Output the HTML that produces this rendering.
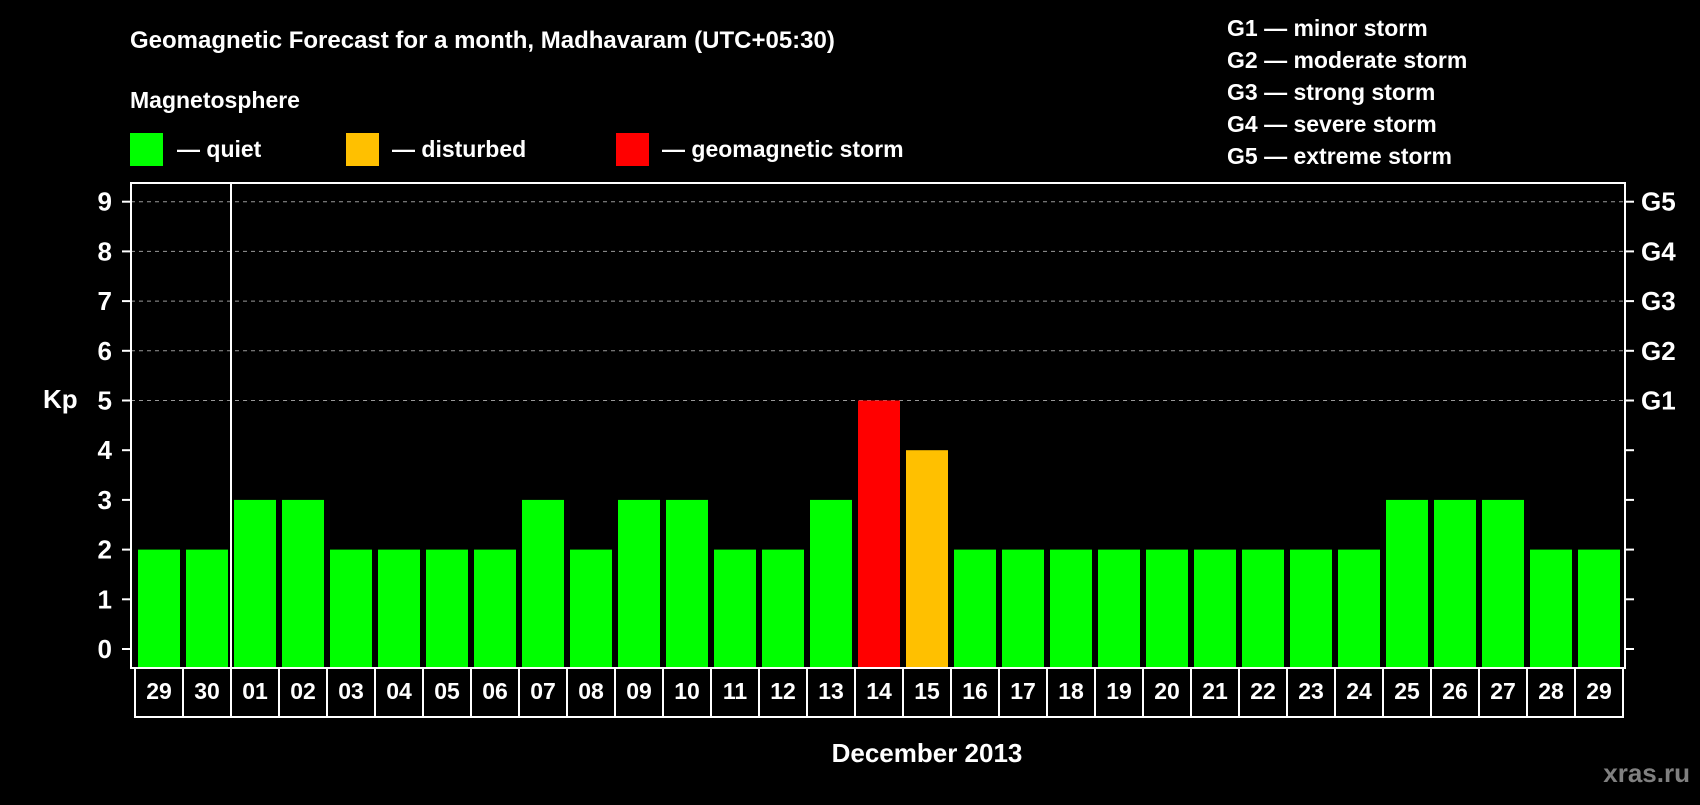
<!DOCTYPE html>
<html><head><meta charset="utf-8"><style>
body{margin:0;background:#000;width:1700px;height:800px;overflow:hidden}
svg text{font-family:"Liberation Sans",sans-serif;font-weight:bold;fill:#fff}
</style></head><body>
<svg id="c" width="1700" height="800">
<text x="130" y="48" font-size="24">Geomagnetic Forecast for a month, Madhavaram (UTC+05:30)</text>
<text x="130" y="108" font-size="23">Magnetosphere</text>
<rect x="130" y="133" width="33" height="33" fill="#00ff00"/>
<text x="177" y="157" font-size="23">— quiet</text>
<rect x="346" y="133" width="33" height="33" fill="#ffc000"/>
<text x="392" y="157" font-size="23">— disturbed</text>
<rect x="616" y="133" width="33" height="33" fill="#ff0000"/>
<text x="662" y="157" font-size="23">— geomagnetic storm</text>
<g font-size="23">
<text x="1227" y="36">G1 — minor storm</text>
<text x="1227" y="68">G2 — moderate storm</text>
<text x="1227" y="100">G3 — strong storm</text>
<text x="1227" y="132">G4 — severe storm</text>
<text x="1227" y="164">G5 — extreme storm</text>
</g>
<text x="43" y="408" font-size="26">Kp</text>
<text x="927" y="762" font-size="26" text-anchor="middle">December 2013</text>
<text x="1690" y="782" font-size="26" text-anchor="end" style="fill:#808080">xras.ru</text>
<g id="plot"></g>
</svg>
<script>
const days=["29","30","01","02","03","04","05","06","07","08","09","10","11","12","13","14","15","16","17","18","19","20","21","22","23","24","25","26","27","28","29"];
const kp=[2,2,3,3,2,2,2,2,3,2,3,3,2,2,3,5,4,2,2,2,2,2,2,2,2,2,3,3,3,2,2];
const yTicks=[0,1,2,3,4,5,6,7,8,9];
const gLabels=["G1","G2","G3","G4","G5"];
const NS="http://www.w3.org/2000/svg",g=document.getElementById('plot');
const L=131,R=1625,T=183,B=668,x0=135,slot=48;
const y=v=>649-v*49.7;
const xs=i=>x0+i*slot;
function mk(t,a){const e=document.createElementNS(NS,t);for(const k in a)e.setAttribute(k,a[k]);g.appendChild(e);return e;}
yTicks.forEach(v=>{
 if(v>=5){const l=mk('line',{x1:L,x2:R,y1:y(v),y2:y(v),stroke:'#999','stroke-dasharray':'4,4','stroke-width':1});
 
 }
 mk('line',{x1:122,x2:L,y1:y(v),y2:y(v),stroke:'#fff','stroke-width':2});
 mk('line',{x1:R,x2:1634,y1:y(v),y2:y(v),stroke:'#fff','stroke-width':2});
 const t=mk('text',{x:112,y:y(v)+9,'font-size':26,'text-anchor':'end'});t.textContent=v;
 
 
});
gLabels.forEach((s,i)=>{const t=mk('text',{x:1641,y:y(5+i)+9,'font-size':26});t.textContent=s;
 
 });
kp.forEach((v,i)=>{
 const c=v>=5?'#ff0000':v>=4?'#ffc000':'#00ff00';
 const r=mk('rect',{x:xs(i)+3,width:slot-6,y:y(v),height:B-y(v),fill:c});
 
 
 const b=mk('rect',{x:xs(i),y:B,width:slot,height:49,fill:'none',stroke:'#fff','stroke-width':2});
 const t=mk('text',{x:xs(i)+slot/2,y:699,'font-size':23,'text-anchor':'middle'});t.textContent=days[i];
 
 
});
mk('rect',{x:L,y:T,width:R-L,height:B-T,fill:'none',stroke:'#fff','stroke-width':2});
mk('line',{x1:xs(2),x2:xs(2),y1:T,y2:B,stroke:'#fff','stroke-width':2});
</script>
</body></html>
